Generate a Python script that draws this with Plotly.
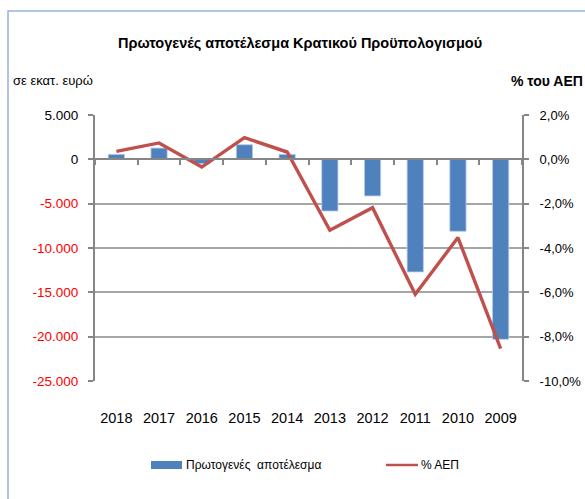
import plotly.graph_objects as go

years = ["2018", "2017", "2016", "2015", "2014", "2013", "2012", "2011", "2010", "2009"]
primary_balance = [560, 1270, -490, 1650, 560, -5830, -4130, -12700, -8120, -20300]
pct_gdp = [0.36, 0.74, -0.35, 0.98, 0.33, -3.2, -2.18, -6.09, -3.53, -8.54]

left_tickvals = [5000, 0, -5000, -10000, -15000, -20000, -25000]
left_ticktext = ["5.000", "0", "-5.000", "-10.000", "-15.000", "-20.000", "-25.000"]
right_tickvals = [2, 0, -2, -4, -6, -8, -10]
right_ticktext = ["2,0%", "0,0%", "-2,0%", "-4,0%", "-6,0%", "-8,0%", "-10,0%"]

title = "Πρωτογενές αποτέλεσμα Κρατικού Προϋπολογισμού"
left_unit = "σε εκατ. ευρώ"
right_unit = "% του ΑΕΠ"
bar_name = "Πρωτογενές  αποτέλεσμα"
line_name = "% ΑΕΠ"

FONT = "Liberation Sans, Arial, sans-serif"
BAR_C = "#4F81BD"
LINE_C = "#C0504D"
GRID_C = "#A6A6A6"
AXIS_C = "#868686"

W, H = 585, 499
# plot area edges in window pixels
L, R, T, B = 95, 522, 115, 381


def px(x):
    return (x - L) / (R - L)


def py(y):
    return (B - y) / (B - T)


colored_left = [
    f'<span style="color:#FF0000">{t}</span>' if v < 0 else t
    for v, t in zip(left_tickvals, left_ticktext)
]

fig = go.Figure()
fig.add_trace(go.Bar(
    x=years, y=primary_balance, name=bar_name,
    marker=dict(color=BAR_C, line=dict(color="#B9CDE5", width=0.8)),
    xaxis="x", yaxis="y", showlegend=False,
))
fig.add_trace(go.Scatter(
    x=years, y=pct_gdp, name=line_name, mode="lines",
    line=dict(color=LINE_C, width=3.4),
    xaxis="x2", yaxis="y2", showlegend=False,
))

fig.update_layout(
    template="none",
    width=W, height=H,
    margin=dict(l=L, r=W - R, t=T, b=H - B, pad=0),
    paper_bgcolor="white", plot_bgcolor="rgba(0,0,0,0)",
    font=dict(family=FONT, size=14, color="#000000"),
    bargap=0.62,
    xaxis=dict(
        type="category", categoryorder="array", categoryarray=years,
        range=[-0.5, 9.5], showgrid=False, showline=False, ticks="",
        tickfont=dict(size=14.5), ticklabelstandoff=26, automargin=False,
    ),
    xaxis2=dict(
        type="category", categoryorder="array", categoryarray=years,
        range=[-0.5, 9.5], overlaying="x", anchor="free", position=py(159),
        showgrid=False, showline=True, linecolor=AXIS_C, linewidth=2,
        ticks="outside", tickson="boundaries", ticklen=5, tickcolor=AXIS_C,
        tickwidth=1.5, showticklabels=False, automargin=False,
    ),
    yaxis=dict(
        range=[-25000, 5000], tickvals=left_tickvals, ticktext=colored_left,
        showgrid=True, gridcolor=GRID_C, gridwidth=1.5, zeroline=False,
        showline=True, linecolor=AXIS_C, linewidth=2,
        ticks="outside", ticklen=5, tickcolor=AXIS_C, tickwidth=1.5,
        tickfont=dict(size=13.5), ticklabelstandoff=7, automargin=False,
    ),
    yaxis2=dict(
        range=[-10, 2], tickvals=right_tickvals, ticktext=right_ticktext,
        overlaying="y", side="right", anchor="x",
        showgrid=True, gridcolor=GRID_C, gridwidth=1.5, zeroline=False,
        showline=True, linecolor=AXIS_C, linewidth=2,
        ticks="outside", ticklen=5, tickcolor=AXIS_C, tickwidth=1.5,
        tickfont=dict(size=13), ticklabelstandoff=8, automargin=False,
    ),
)

shapes = [
    dict(type="rect", xref="paper", yref="paper",
         x0=px(8), x1=px(600), y0=py(520), y1=py(11),
         line=dict(color="#95B3D7", width=1.5), fillcolor="rgba(0,0,0,0)",
         layer="below"),
    dict(type="rect", xref="paper", yref="paper",
         x0=px(151), x1=px(182), y0=py(469), y1=py(461),
         line=dict(width=0), fillcolor=BAR_C),
    dict(type="line", xref="paper", yref="paper",
         x0=px(386), x1=px(418), y0=py(465), y1=py(465),
         line=dict(color=LINE_C, width=2.5)),
]

annotations = [
    dict(text=f"<b>{title}</b>", x=px(300), y=py(43), xref="paper", yref="paper",
         xanchor="center", yanchor="middle", showarrow=False, font=dict(size=14.5)),
    dict(text=left_unit, x=px(11), y=py(80), xref="paper", yref="paper",
         xanchor="left", yanchor="middle", showarrow=False, font=dict(size=13)),
    dict(text=f"<b>{right_unit}</b>", x=px(585), y=py(81), xref="paper", yref="paper",
         xanchor="right", yanchor="middle", showarrow=False, font=dict(size=14)),
    dict(text=bar_name, x=px(184), y=py(465), xref="paper", yref="paper",
         xanchor="left", yanchor="middle", showarrow=False, font=dict(size=12)),
    dict(text=line_name, x=px(419), y=py(465), xref="paper", yref="paper",
         xanchor="left", yanchor="middle", showarrow=False, font=dict(size=12)),
]

fig.update_layout(shapes=shapes, annotations=annotations)
fig.write_html(
    "out.html",
    config={"displayModeBar": False},
    post_script="document.body.style.margin='0';document.body.style.overflow='hidden';",
)
